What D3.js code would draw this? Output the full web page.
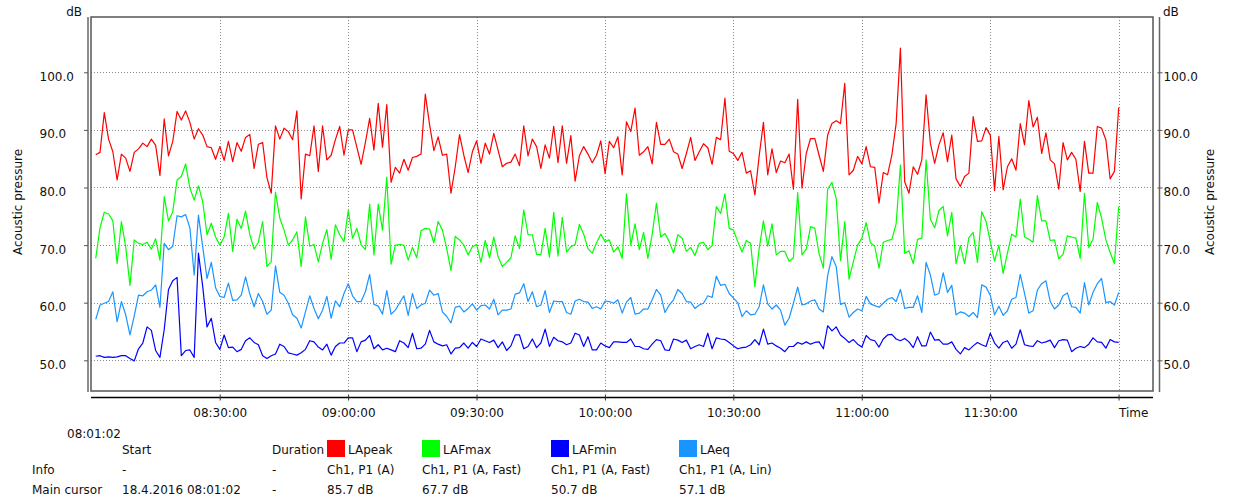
<!DOCTYPE html>
<html>
<head>
<meta charset="utf-8">
<script src="https://cdn.jsdelivr.net/npm/d3@7"></script>
<style>
  body { margin: 0; background: #fff; }
  svg { display: block; font-family: 'DejaVu Sans', Verdana, sans-serif; font-size: 12px; }
</style>
</head>
<body>
<script>
// sound level log, one value per minute from 08:01:02
const startTime = new Date(2016, 3, 18, 8, 1, 2)
const seriesNames = ['LApeak', 'LAFmax', 'LAFmin', 'LAeq']
const seriesInfo = ['Ch1, P1 (A)', 'Ch1, P1 (A, Fast)', 'Ch1, P1 (A, Fast)', 'Ch1, P1 (A, Lin)']
const yTicks = [50, 60, 70, 80, 90, 100]
const xTickLabels = ['08:30:00', '09:00:00', '09:30:00', '10:00:00', '10:30:00', '11:00:00', '11:30:00', 'Time']

const laPeak = [
  85.7, 86.1, 93.0, 88.4, 86.2, 81.3, 85.8, 85.1, 82.8, 86.1, 86.7, 87.7, 87.1, 88.4, 87.3, 82.1, 91.9, 85.5, 88.0, 93.2,
  91.7, 93.3, 91.3, 88.4, 90.2, 89.1, 87.1, 86.9, 84.9, 87.1, 84.7, 88.0, 84.5, 87.8, 86.3, 88.7, 89.2, 83.3, 87.5, 87.8,
  81.7, 79.0, 90.7, 88.4, 90.3, 89.7, 88.3, 93.3, 78.0, 85.8, 85.5, 90.7, 82.8, 90.7, 84.8, 85.6, 88.3, 90.6, 85.6, 90.0,
  90.0, 87.0, 84.0, 87.8, 92.0, 86.5, 94.6, 87.0, 94.4, 80.9, 83.5, 82.5, 84.9, 83.0, 85.2, 85.4, 85.8, 96.2, 90.9, 86.4,
  88.8, 85.6, 85.8, 79.0, 83.6, 89.2, 85.6, 82.6, 86.2, 88.1, 84.2, 87.7, 85.8, 89.4, 86.5, 83.6, 84.2, 84.4, 85.8, 83.8,
  90.7, 85.5, 88.4, 87.1, 83.3, 87.4, 85.1, 90.6, 84.3, 90.7, 84.2, 89.0, 81.1, 85.5, 87.1, 85.8, 84.3, 85.6, 88.1, 82.4,
  88.0, 86.9, 88.8, 82.2, 91.4, 89.7, 93.8, 85.6, 86.2, 87.1, 84.1, 91.3, 87.5, 87.5, 88.4, 86.2, 85.8, 83.3, 85.9, 88.7,
  84.7, 86.2, 87.6, 86.9, 84.0, 88.7, 88.3, 95.5, 86.3, 85.9, 84.7, 86.1, 82.5, 82.9, 78.7, 85.5, 91.3, 82.2, 86.7, 82.6,
  84.6, 84.3, 85.8, 79.7, 95.3, 79.9, 85.9, 88.5, 88.5, 85.6, 82.8, 89.1, 91.1, 91.6, 91.1, 98.1, 82.2, 83.0, 85.4, 84.1,
  87.1, 83.6, 83.5, 77.3, 82.6, 82.2, 85.6, 91.1, 104.2, 81.0, 79.0, 83.6, 82.3, 84.8, 96.1, 87.7, 84.2, 87.4, 89.5, 84.5,
  89.1, 81.5, 80.2, 81.9, 82.5, 92.3, 88.0, 88.1, 90.4, 89.1, 79.5, 88.9, 79.6, 83.6, 85.0, 83.0, 91.1, 87.4, 95.1, 90.5,
  92.2, 85.9, 89.5, 84.8, 84.1, 79.7, 87.8, 84.8, 86.1, 84.9, 79.3, 88.0, 82.5, 82.5, 90.6, 90.3, 88.3, 81.5, 82.8, 93.9
]
const lafMax = [
  67.7, 73.0, 75.7, 75.4, 74.2, 66.8, 74.1, 69.7, 63.0, 70.9, 70.3, 70.1, 70.5, 69.3, 71.1, 67.4, 78.4, 74.2, 75.8, 81.3,
  81.9, 84.1, 79.9, 77.8, 80.3, 77.5, 71.8, 73.8, 71.4, 70.0, 71.4, 75.5, 68.9, 74.5, 72.9, 75.9, 71.8, 69.3, 70.5, 74.1,
  66.3, 67.1, 79.2, 74.7, 72.6, 70.0, 70.9, 72.3, 66.3, 74.9, 69.8, 70.1, 67.1, 70.3, 72.7, 67.5, 73.5, 71.8, 70.6, 76.0,
  71.2, 72.9, 70.1, 69.2, 77.1, 68.3, 77.1, 72.6, 81.8, 66.7, 70.0, 70.1, 70.0, 67.4, 69.6, 67.8, 72.5, 72.9, 72.8, 70.4,
  74.1, 72.6, 69.4, 65.6, 71.5, 70.9, 70.0, 68.3, 69.7, 70.1, 67.0, 70.8, 67.8, 71.4, 68.0, 66.3, 67.0, 67.8, 71.6, 69.4,
  76.1, 71.8, 71.8, 68.4, 68.3, 72.9, 67.9, 75.7, 68.1, 74.8, 68.8, 69.7, 70.1, 73.6, 71.9, 69.4, 68.6, 70.4, 71.9, 70.6,
  70.9, 68.8, 69.7, 67.7, 78.9, 70.0, 73.7, 69.2, 72.2, 67.7, 71.8, 77.3, 71.4, 72.0, 70.6, 68.6, 71.8, 71.2, 68.9, 69.6,
  68.2, 70.3, 70.5, 69.2, 69.9, 76.7, 75.5, 78.9, 72.9, 72.6, 70.6, 68.8, 70.8, 70.3, 62.8, 69.4, 74.2, 69.8, 73.7, 68.3,
  68.9, 68.9, 67.2, 67.8, 79.1, 68.3, 69.3, 73.2, 72.9, 68.5, 66.0, 79.7, 80.9, 78.1, 67.3, 74.1, 64.1, 67.1, 70.0, 71.2,
  73.9, 70.4, 69.8, 66.0, 70.5, 70.8, 71.0, 73.7, 83.9, 68.6, 69.0, 66.8, 71.0, 71.2, 84.8, 74.5, 73.0, 76.0, 76.7, 71.6,
  75.7, 66.8, 69.9, 66.8, 71.3, 72.2, 67.0, 75.8, 74.1, 70.6, 67.2, 70.0, 65.1, 68.6, 71.9, 71.4, 78.0, 71.4, 71.0, 70.5,
  78.6, 74.2, 74.2, 70.8, 70.9, 67.6, 68.4, 71.6, 71.4, 71.2, 67.7, 79.0, 69.6, 71.0, 77.4, 74.7, 70.9, 68.7, 66.8, 76.7
]
const lafMin = [
  50.7, 50.8, 50.5, 50.6, 50.5, 50.6, 50.8, 50.8, 50.3, 49.9, 52.0, 53.0, 55.8, 55.2, 51.7, 50.5, 55.3, 62.3, 63.8, 64.4,
  50.8, 51.7, 51.8, 50.5, 68.6, 62.8, 55.8, 57.3, 53.1, 51.9, 54.4, 52.2, 52.3, 51.5, 51.9, 53.4, 53.9, 53.1, 52.7, 50.8,
  50.3, 50.8, 51.1, 52.8, 52.4, 51.3, 51.1, 50.9, 51.3, 51.9, 53.4, 53.2, 52.3, 51.8, 52.8, 50.9, 52.4, 53.0, 53.0, 53.9,
  53.9, 51.5, 53.2, 53.5, 54.3, 52.0, 52.7, 51.8, 52.1, 51.8, 51.5, 53.4, 53.0, 52.2, 54.7, 52.0, 52.1, 52.8, 55.2, 53.2,
  52.8, 52.5, 52.7, 51.1, 52.1, 52.2, 53.0, 52.1, 53.1, 52.4, 53.7, 53.4, 53.1, 53.5, 52.2, 53.2, 51.7, 52.5, 54.4, 54.4,
  52.0, 52.4, 53.7, 52.2, 53.0, 55.4, 52.4, 54.0, 53.4, 53.2, 52.7, 53.0, 54.7, 54.4, 52.4, 54.1, 51.8, 51.8, 53.0, 52.5,
  52.2, 53.2, 53.2, 53.1, 53.1, 53.7, 52.4, 52.4, 52.0, 51.9, 52.8, 53.6, 53.4, 51.8, 51.7, 53.7, 53.5, 53.1, 53.5, 52.0,
  52.4, 52.7, 52.4, 54.7, 52.0, 53.9, 53.7, 53.6, 53.1, 52.5, 52.0, 52.2, 52.3, 52.7, 53.6, 52.7, 55.4, 52.8, 53.0, 52.5,
  52.1, 51.5, 52.4, 52.4, 53.1, 52.8, 53.2, 52.8, 53.1, 53.2, 52.0, 56.0, 55.1, 55.8, 54.4, 53.8, 53.1, 53.6, 52.8, 52.3,
  54.3, 53.6, 53.4, 52.3, 53.7, 54.4, 54.5, 53.7, 53.4, 53.8, 53.2, 52.2, 54.1, 52.5, 52.5, 54.9, 53.5, 53.6, 52.8, 52.8,
  53.2, 51.9, 51.1, 52.2, 51.8, 52.5, 53.1, 52.7, 52.4, 54.7, 53.0, 52.1, 53.1, 53.4, 52.1, 52.8, 55.3, 52.7, 52.5, 52.4,
  53.4, 53.0, 53.2, 53.5, 52.2, 53.4, 53.6, 53.5, 51.5, 52.1, 52.4, 52.2, 52.8, 53.9, 53.2, 53.1, 52.1, 53.6, 53.2, 53.1
]
const laEq = [
  57.1, 59.6, 59.9, 60.2, 61.9, 56.7, 60.2, 57.9, 54.4, 57.7, 61.3, 61.2, 61.9, 62.2, 63.1, 59.2, 70.3, 69.2, 69.8, 75.1,
  74.9, 75.3, 73.0, 64.8, 75.2, 69.7, 64.2, 67.0, 62.6, 61.1, 60.9, 63.4, 60.4, 60.5, 61.3, 64.5, 61.5, 59.3, 61.6, 60.2,
  58.0, 58.7, 66.4, 61.8, 61.3, 59.9, 57.9, 57.3, 55.6, 58.4, 61.2, 59.0, 57.2, 58.7, 61.1, 57.3, 60.3, 59.3, 61.6, 63.3,
  61.2, 60.2, 60.2, 61.9, 64.9, 59.7, 59.4, 58.0, 62.1, 58.0, 58.7, 60.0, 61.2, 57.8, 61.6, 59.0, 59.6, 59.9, 62.2, 61.3,
  61.6, 58.4, 57.6, 56.5, 59.2, 59.4, 58.4, 59.0, 59.8, 58.7, 59.5, 59.6, 58.9, 60.6, 57.9, 58.7, 58.7, 58.9, 61.5, 61.7,
  63.3, 60.2, 61.9, 59.3, 59.6, 62.1, 58.3, 60.3, 60.2, 60.2, 58.3, 58.0, 60.3, 60.6, 60.2, 60.1, 59.0, 59.3, 58.9, 60.3,
  60.2, 59.9, 60.5, 58.2, 60.1, 60.9, 58.0, 58.2, 58.9, 58.9, 60.5, 62.3, 61.3, 58.3, 59.6, 60.5, 62.3, 61.6, 60.2, 60.1,
  59.0, 59.6, 59.9, 61.2, 60.9, 64.6, 63.0, 63.2, 61.6, 60.8, 60.0, 57.6, 58.6, 57.9, 58.0, 59.3, 63.1, 59.8, 58.9, 59.6,
  58.7, 56.1, 57.3, 59.9, 62.7, 59.6, 59.8, 60.3, 60.5, 58.9, 58.4, 64.7, 68.0, 66.3, 59.7, 60.0, 57.5, 58.3, 58.9, 58.6,
  61.1, 59.8, 59.5, 59.2, 59.9, 60.6, 60.9, 60.2, 62.3, 59.0, 59.2, 59.2, 61.2, 58.3, 67.0, 64.8, 61.3, 61.6, 65.2, 61.8,
  63.0, 57.9, 58.4, 58.2, 57.6, 58.3, 57.4, 63.1, 62.7, 61.3, 57.9, 59.4, 57.8, 58.6, 60.6, 60.9, 64.9, 61.6, 58.2, 58.6,
  62.2, 63.3, 63.8, 60.2, 58.9, 59.6, 61.2, 61.7, 59.3, 59.2, 58.2, 63.5, 59.6, 61.8, 63.3, 64.2, 60.0, 60.2, 59.6, 61.8
]

const allSeries = [laPeak, lafMax, lafMin, laEq]
const colors = ['#ff0000', '#00ff00', '#0000ff', '#1a94ff']

const width = 1235
const height = 504
const plotLeft = 91
const plotRight = 1153
const plotTop = 17
const plotBottom = 391

const svg = d3.select('body').append('svg')
  .attr('width', width)
  .attr('height', height)

const x = d3.scaleTime()
  .domain([new Date(2016, 3, 18, 8, 0, 0), new Date(2016, 3, 18, 12, 8, 0)])
  .range([plotLeft + 0.3, plotRight - 0.2])
const y = d3.scaleLinear()
  .domain([44.67, 109.6])
  .range([plotBottom, plotTop])

const timeOf = function (i) {
  return d3.timeMinute.offset(startTime, i)
}
const xTickTimes = xTickLabels.map(function (d, i) {
  return d3.timeMinute.offset(new Date(2016, 3, 18, 8, 30, 0), i * 30)
})

// grid
const grid = svg.append('g')
  .attr('stroke', '#8a8a8a')
  .attr('stroke-dasharray', '1,2')
  .attr('stroke-width', 1)
grid.selectAll('line.h')
  .data(yTicks)
  .enter()
  .append('line')
  .attr('x1', plotLeft)
  .attr('x2', plotRight)
  .attr('y1', function (d) { return Math.round(y(d)) + 0.5 })
  .attr('y2', function (d) { return Math.round(y(d)) + 0.5 })
grid.selectAll('line.v')
  .data(xTickTimes)
  .enter()
  .append('line')
  .attr('x1', function (d) { return Math.round(x(d)) + 0.5 })
  .attr('x2', function (d) { return Math.round(x(d)) + 0.5 })
  .attr('y1', plotTop)
  .attr('y2', plotBottom)

// series lines
svg.append('clipPath').attr('id', 'plot')
  .append('rect')
  .attr('x', plotLeft).attr('y', plotTop)
  .attr('width', plotRight - plotLeft).attr('height', plotBottom - plotTop)

const line = d3.line()
  .x(function (d, i) { return x(timeOf(i)) })
  .y(function (d) { return y(d) })

svg.append('g')
  .attr('clip-path', 'url(#plot)')
  .selectAll('path')
  .data(allSeries)
  .enter()
  .append('path')
  .attr('d', line)
  .attr('fill', 'none')
  .attr('stroke', function (d, i) { return colors[i] })
  .attr('stroke-width', 1.2)
  .attr('stroke-linejoin', 'round')

// frame
svg.append('rect')
  .attr('x', plotLeft).attr('y', plotTop)
  .attr('width', plotRight - plotLeft).attr('height', plotBottom - plotTop)
  .attr('fill', 'none')
  .attr('stroke', '#555')
  .attr('stroke-width', 1.5)

// left axis
const yLeft = svg.append('g')
  .attr('transform', 'translate(88,0)')
  .call(d3.axisLeft(y).tickValues(yTicks).tickFormat(d3.format('.1f')).tickSize(4))
yLeft.select('.domain').attr('stroke', '#666').attr('stroke-width', 1.5)
  .attr('d', 'M0,' + plotTop + 'V' + (plotBottom + 1))
yLeft.selectAll('.tick line').attr('stroke', '#555')
yLeft.selectAll('.tick text')
  .attr('x', -48.5)
  .attr('dy', '0.67em')
  .attr('text-anchor', 'start')
  .attr('fill', '#111')
  .style('font-size', '12px')
  .style('font-family', "'DejaVu Sans', Verdana, sans-serif")

// right axis
const yRight = svg.append('g')
  .attr('transform', 'translate(1159.5,0)')
  .call(d3.axisRight(y).tickValues(yTicks).tickFormat(d3.format('.1f')).tickSize(3))
yRight.select('.domain').attr('stroke', '#666').attr('stroke-width', 1.5)
  .attr('d', 'M0,' + plotTop + 'V' + (plotBottom + 1))
yRight.selectAll('.tick line').attr('stroke', '#555').attr('x1', -2)
yRight.selectAll('.tick text')
  .attr('x', 4)
  .attr('dy', '0.67em')
  .attr('fill', '#111')
  .style('font-size', '12px')
  .style('font-family', "'DejaVu Sans', Verdana, sans-serif")

// bottom time axis
const xAxis = svg.append('g')
  .attr('transform', 'translate(0,397.5)')
  .call(d3.axisBottom(x).tickValues(xTickTimes)
    .tickFormat(function (d, i) { return xTickLabels[i] })
    .tickSize(3))
xAxis.select('.domain').attr('stroke', '#000').attr('stroke-width', 1.3)
  .attr('d', 'M' + plotLeft + ',0H' + plotRight)
xAxis.selectAll('.tick line').attr('y1', -3).attr('y2', 3).attr('stroke', '#333')
xAxis.selectAll('.tick text')
  .attr('y', 19.5)
  .attr('dy', 0)
  .attr('fill', '#111')
  .attr('text-anchor', function (d, i) { return i === xTickLabels.length - 1 ? 'start' : 'middle' })
  .style('font-size', '12px')
  .style('font-family', "'DejaVu Sans', Verdana, sans-serif")

// axis titles
svg.append('text').text('dB').attr('x', 82).attr('y', 16).attr('text-anchor', 'end').attr('fill', '#111')
svg.append('text').text('dB').attr('x', 1163).attr('y', 16).attr('fill', '#111')
svg.append('text').text('Acoustic pressure')
  .attr('transform', 'translate(22,202) rotate(-90)')
  .attr('text-anchor', 'middle').attr('fill', '#111')
svg.append('text').text('Acoustic pressure')
  .attr('transform', 'translate(1214,202) rotate(-90)')
  .attr('text-anchor', 'middle').attr('fill', '#111')

// info table under the chart
const colX = [327, 422, 551, 679]
const rowY = [454, 474, 494]
const table = svg.append('g').attr('fill', '#111')
table.append('text').text(d3.timeFormat('%H:%M:%S')(startTime)).attr('x', 67).attr('y', 438)
table.append('text').text('Start').attr('x', 122).attr('y', rowY[0])
table.append('text').text('Duration').attr('x', 272).attr('y', rowY[0])
table.append('text').text('Info').attr('x', 32).attr('y', rowY[1])
table.append('text').text('-').attr('x', 122).attr('y', rowY[1])
table.append('text').text('-').attr('x', 272).attr('y', rowY[1])
table.append('text').text('Main cursor').attr('x', 32).attr('y', rowY[2])
table.append('text').text(d3.timeFormat('%-d.%-m.%Y %H:%M:%S')(startTime)).attr('x', 122).attr('y', rowY[2])
table.append('text').text('-').attr('x', 272).attr('y', rowY[2])

table.selectAll('rect.sw')
  .data(seriesNames)
  .enter()
  .append('rect')
  .attr('x', function (d, i) { return colX[i] })
  .attr('y', 440)
  .attr('width', 18)
  .attr('height', 17)
  .attr('fill', function (d, i) { return colors[i] })
table.selectAll('text.name')
  .data(seriesNames)
  .enter()
  .append('text')
  .text(function (d) { return d })
  .attr('x', function (d, i) { return colX[i] + 21 })
  .attr('y', rowY[0])
table.selectAll('text.info')
  .data(seriesInfo)
  .enter()
  .append('text')
  .text(function (d) { return d })
  .attr('x', function (d, i) { return colX[i] })
  .attr('y', rowY[1])
table.selectAll('text.val')
  .data(allSeries)
  .enter()
  .append('text')
  .text(function (d) { return d3.format('.1f')(d[0]) + ' dB' })
  .attr('x', function (d, i) { return colX[i] })
  .attr('y', rowY[2])
</script>
</body>
</html>
